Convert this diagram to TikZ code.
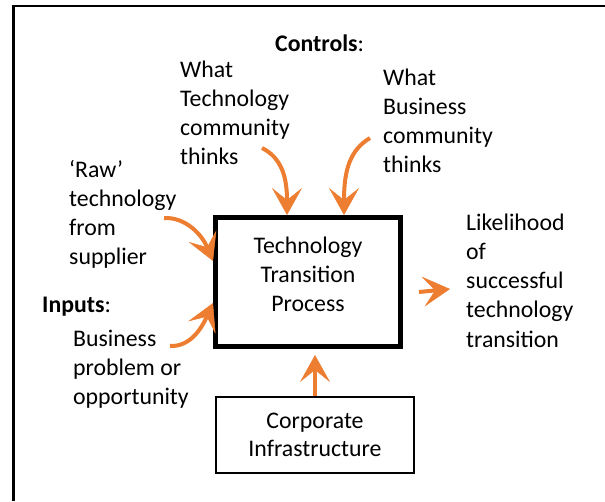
\documentclass[tikz,border=0pt]{standalone}
\usepackage{fontspec}
\setmainfont{Carlito}
\usetikzlibrary{arrows.meta}
\definecolor{arroworange}{RGB}{237,125,49}
\tikzset{
	procstyle/.style={rectangle,draw=black,line width=5pt,minimum width=185pt,minimum height=129pt},
	infrastyle/.style={rectangle,draw=black,line width=2pt,minimum width=198pt,minimum height=76pt},
	textstyle/.style={inner sep=0pt,align=left,font=\fontsize{23.8pt}{29.3pt}\selectfont},
	flowstyle/.style={draw=arroworange,line width=4pt,-{Stealth[length=27pt,width=30pt,inset=12pt,line width=0.5pt]}},
	framestyle/.style={draw=black,line width=2.5pt}
}

\begin{document}
\begin{tikzpicture}[x=1pt,y=-1pt]
		\useasboundingbox (0,0) rectangle (605,501);
		\draw[framestyle] (13.5,501) -- (13.5,6) -- (605,6);
		% boxes (multi-line texts sit on the baseline of their last line)
		\node[procstyle] (proc) at (308,282) {};
		\node[textstyle,align=center,anchor=base] (proctext) at (308,311.6) {Technology\\Transition\\Process};
		\node[infrastyle,textstyle,align=center,font=\fontsize{23.8pt}{28pt}\selectfont] (infra) at (315,435) {Corporate\\Infrastructure};
		% labels
		\node[textstyle,anchor=base west] (ctrl) at (275,51) {\textbf{Controls}:};
		\node[textstyle,anchor=base west] (techc) at (180,164.9) {What\\Technology\\community\\thinks};
		\node[textstyle,anchor=base west] (busc) at (383,172.9) {What\\Business\\community\\thinks};
		\node[textstyle,anchor=base west] (raw) at (69,264.9) {‘Raw’\\technology\\from\\supplier};
		\node[textstyle,anchor=base west] (inp) at (42,312) {\textbf{Inputs}:};
		\node[textstyle,anchor=base west] (prob) at (73,404.6) {Business\\problem or\\opportunity};
		\node[textstyle,anchor=base west] (out) at (466,347.2) {Likelihood\\of\\successful\\technology\\transition};
		% arrow ends
		\coordinate (techtail) at (262,148);
		\coordinate (bustail) at (370,138);
		\coordinate (rawtail) at (164,218);
		\coordinate (probtail) at (170,346);
		\coordinate (outtail) at (419,292);
		\coordinate (outtip) at (450,289);
		\draw[flowstyle] (techtail) .. controls (282,158) and (287,178) .. ([xshift=-21pt]proc.north);
		\draw[flowstyle] (bustail) .. controls (350,150) and (344,170) .. ([xshift=36pt]proc.north);
		\draw[flowstyle] (rawtail) .. controls (186,217) and (202,235) .. ([yshift=21pt]proc.west);
		\draw[flowstyle] (probtail) .. controls (192,347) and (203,325) .. ([yshift=-21pt]proc.west);
		\draw[flowstyle] (outtail) -- (outtip);
		\draw[flowstyle,shorten >=6pt] (infra.north) -- (infra.north |- proc.south);
		\end{tikzpicture}
\end{document}
